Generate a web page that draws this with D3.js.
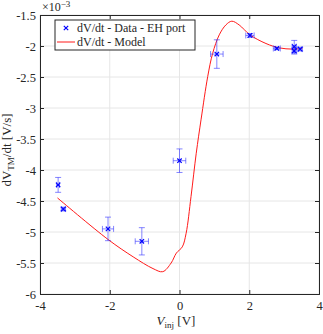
<!DOCTYPE html>
<html>
<head>
<meta charset="utf-8">
<script src="https://cdn.jsdelivr.net/npm/d3@7"></script>
<style>
  body { margin: 0; background: #fff; }
  text { font-family: "Liberation Serif", "DejaVu Serif", serif; fill: #262626; }
</style>
</head>
<body>
<svg id="chart"></svg>
<script>
// data (y values in units of 1e-3 V/s)
var xData = [-3.48, -3.33, -2.05, -1.08, 0.0, 1.07, 2.02, 2.79, 3.29, 3.29, 3.46];
var yData = [-4.24, -4.63, -4.95, -5.15, -3.85, -2.13, -1.83, -2.04, -2.01, -2.08, -2.05];
var xErr = [0.04, 0.06, 0.16, 0.19, 0.18, 0.18, 0.12, 0.10, 0.06, 0.06, 0.06];
var yErr = [0.12, 0.03, 0.19, 0.22, 0.19, 0.23, 0.03, 0.02, 0.10, 0.05, 0.03];

var modelX = [-3.5, -2.05, -1.33, -0.76, -0.48, -0.24, -0.09, 0.08, 0.19, 0.33, 0.48, 0.62, 0.81, 0.95, 1.14, 1.33, 1.5, 1.71, 2.02, 2.48, 2.86, 3.24, 3.52];
var modelY = [-4.45, -5.12, -5.40, -5.59, -5.64, -5.5, -5.34, -5.24, -5.02, -4.43, -3.73, -3.18, -2.49, -2.12, -1.82, -1.66, -1.60, -1.66, -1.82, -1.96, -2.03, -2.05, -2.04];

var xTicks = [-4, -2, 0, 2, 4];
var yTicks = [-1.5, -2, -2.5, -3, -3.5, -4, -4.5, -5, -5.5, -6];

// *********************************************
// SETUP
// *********************************************
var width = 323, height = 334;
var pLeft = 40, pRight = 319, pTop = 15, pBottom = 294;

var svg = d3.select("#chart")
    .attr("width", width)
    .attr("height", height);

var x = d3.scaleLinear().domain([-4, 4]).range([pLeft, pRight]);
var y = d3.scaleLinear().domain([-6, -1.5]).range([pBottom, pTop]);

// grid
var grid = svg.append("g");
grid.selectAll(".gx").data(xTicks).enter().append("line")
    .attr("x1", d => x(d)).attr("x2", d => x(d))
    .attr("y1", pTop).attr("y2", pBottom)
    .attr("stroke", "#e6e6e6").attr("stroke-width", 1);
grid.selectAll(".gy").data(yTicks).enter().append("line")
    .attr("y1", d => y(d)).attr("y2", d => y(d))
    .attr("x1", pLeft).attr("x2", pRight)
    .attr("stroke", "#e6e6e6").attr("stroke-width", 1);

// model line
var line = d3.line()
    .x((d, i) => x(modelX[i]))
    .y(d => y(d))
    .curve(d3.curveCatmullRom);
svg.append("path")
    .attr("d", line(modelY))
    .attr("fill", "none")
    .attr("stroke", "#ff1a1a")
    .attr("stroke-width", 1);

// error bars
var pts = xData.map((v, i) => ({x: v, y: yData[i], ex: xErr[i], ey: yErr[i]}));
var eb = svg.append("g")
    .attr("stroke", "#3333ff")
    .attr("stroke-opacity", 0.6)
    .attr("stroke-width", 1)
    .attr("fill", "none");
var cap = 3;
pts.forEach(function(p) {
  var cx = x(p.x), cy = y(p.y);
  var y0 = y(p.y - p.ey), y1 = y(p.y + p.ey);
  var x0 = x(p.x - p.ex), x1 = x(p.x + p.ex);
  eb.append("path").attr("d",
    "M" + cx + "," + y0 + "V" + y1 +
    "M" + (cx - cap) + "," + y0 + "H" + (cx + cap) +
    "M" + (cx - cap) + "," + y1 + "H" + (cx + cap) +
    "M" + x0 + "," + cy + "H" + x1 +
    "M" + x0 + "," + (cy - cap) + "V" + (cy + cap) +
    "M" + x1 + "," + (cy - cap) + "V" + (cy + cap));
});

// markers
var m = 2.2;
svg.append("g").selectAll("path").data(pts).enter().append("path")
    .attr("d", function(p) {
      var cx = x(p.x), cy = y(p.y);
      return "M" + (cx - m) + "," + (cy - m) + "L" + (cx + m) + "," + (cy + m) +
             "M" + (cx - m) + "," + (cy + m) + "L" + (cx + m) + "," + (cy - m);
    })
    .attr("stroke", "#0000ff")
    .attr("stroke-width", 1.2)
    .attr("fill", "none");

// axes
var xAxis = d3.axisBottom(x).tickValues(xTicks).tickSize(-4).tickPadding(7).tickFormat(d => String(d));
var yAxis = d3.axisLeft(y).tickValues(yTicks).tickSize(-4).tickPadding(4).tickFormat(d => String(d));

var gx = svg.append("g").attr("transform", "translate(0," + pBottom + ")").call(xAxis);
var gy = svg.append("g").attr("transform", "translate(" + pLeft + ",0)").call(yAxis);
var gx2 = svg.append("g").attr("transform", "translate(0," + pTop + ")")
    .call(d3.axisTop(x).tickValues(xTicks).tickSize(-4).tickFormat(""));
var gy2 = svg.append("g").attr("transform", "translate(" + pRight + ",0)")
    .call(d3.axisRight(y).tickValues(yTicks).tickSize(-4).tickFormat(""));

[gx, gy, gx2, gy2].forEach(function(g) {
  g.select(".domain").attr("stroke", "#262626");
  g.selectAll(".tick line").attr("stroke", "#262626");
  g.selectAll("text").style("font-family", "Liberation Serif, serif")
    .style("font-size", "12.5px").attr("fill", "#262626");
});

// exponent
var ex = svg.append("text").attr("x", 42).attr("y", 11).style("font-size", "12px");
ex.append("tspan").text("\u00d710");
ex.append("tspan").attr("dy", -4).style("font-size", "9px").text("\u22123");

// axis labels
var xl = svg.append("text")
    .attr("x", 176).attr("y", 325)
    .attr("text-anchor", "middle").style("font-size", "13px");
xl.append("tspan").style("font-style", "italic").text("V");
xl.append("tspan").attr("dy", 3).style("font-size", "9px").text("inj");
xl.append("tspan").attr("dy", -3).text(" [V]");

var yl = svg.append("text")
    .attr("transform", "translate(11,150) rotate(-90)")
    .attr("text-anchor", "middle").style("font-size", "13px");
yl.append("tspan").text("dV");
yl.append("tspan").attr("dy", 3).style("font-size", "9px").text("TM");
yl.append("tspan").attr("dy", -3).text("/dt [V/s]");

// legend
var lg = svg.append("g");
lg.append("rect").attr("x", 55).attr("y", 20).attr("width", 140).attr("height", 30)
    .attr("fill", "#fff").attr("stroke", "#262626").attr("stroke-width", 1);
lg.append("path")
    .attr("d", "M" + (66 - m) + "," + (28 - m) + "L" + (66 + m) + "," + (28 + m) +
               "M" + (66 - m) + "," + (28 + m) + "L" + (66 + m) + "," + (28 - m))
    .attr("stroke", "#0000ff").attr("stroke-width", 1.2);
lg.append("text").attr("x", 77).attr("y", 32).style("font-size", "12px").text("dV/dt - Data - EH port");
lg.append("line").attr("x1", 57).attr("x2", 75).attr("y1", 42).attr("y2", 42)
    .attr("stroke", "#ff1a1a").attr("stroke-width", 1);
lg.append("text").attr("x", 77).attr("y", 46).style("font-size", "12px").text("dV/dt - Model");
</script>
</body>
</html>
